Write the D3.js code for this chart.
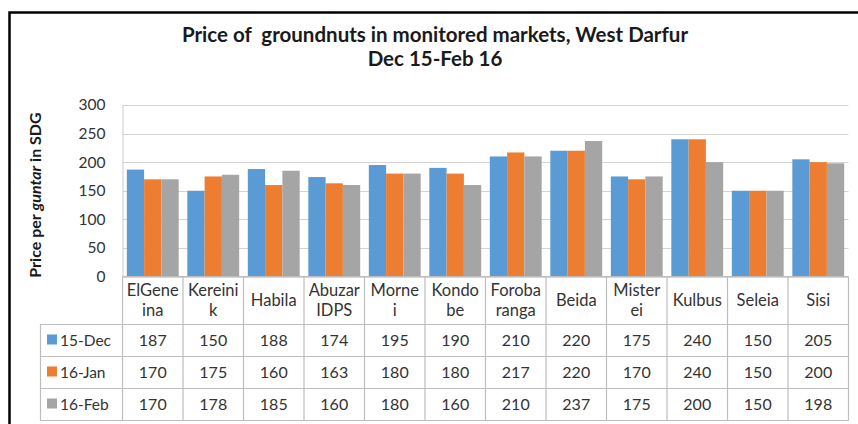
<!DOCTYPE html>
<html>
<head>
<meta charset="utf-8">
<script src="https://cdn.jsdelivr.net/npm/d3@7"></script>
<style>
  body { margin: 0; background: #fff; }
  svg { display: block; font-family: Lato, "Open Sans", sans-serif; }
</style>
</head>
<body>
<div id="chart"></div>
<script>
// podaci
const categories = ["ElGene\nina", "Kereini\nk", "Habila", "Abuzar\nIDPS", "Morne\ni", "Kondo\nbe",
  "Foroba\nranga", "Beida", "Mister\nei", "Kulbus", "Seleia", "Sisi"];
const seriesNames = ["15-Dec", "16-Jan", "16-Feb"];
const dec15 = [187, 150, 188, 174, 195, 190, 210, 220, 175, 240, 150, 205];
const jan16 = [170, 175, 160, 163, 180, 180, 217, 220, 170, 240, 150, 200];
const feb16 = [170, 178, 185, 160, 180, 160, 210, 237, 175, 200, 150, 198];
const yTicks = [0, 50, 100, 150, 200, 250, 300];

const colors = ["#5b9bd5", "#ed7d31", "#a5a5a5"];
const allSeries = [dec15, jan16, feb16];

const width = 858, height = 424;
const plot = { left: 122.5, right: 848.5, top: 105, bottom: 276.5 };
const rowH = 32;
const catRowBottom = 324;
const legendLeft = 40.5;

const svg = d3.select("#chart").append("svg")
  .attr("width", width)
  .attr("height", height);

svg.append("rect").attr("width", width).attr("height", height).attr("fill", "#fff");

// okvir
svg.append("path")
  .attr("d", `M9.5,${height} L9.5,12.5 L${width},12.5`)
  .attr("fill", "none")
  .attr("stroke", "#000")
  .attr("stroke-width", 2.5);

// naslov
svg.append("text")
  .attr("x", 435).attr("y", 42)
  .attr("text-anchor", "middle")
  .attr("font-weight", "bold")
  .attr("font-size", "20.5px")
  .attr("fill", "#1a1a1a")
  .attr("xml:space", "preserve")
  .text("Price of  groundnuts in monitored markets, West Darfur");
svg.append("text")
  .attr("x", 435).attr("y", 66)
  .attr("text-anchor", "middle")
  .attr("font-weight", "bold")
  .attr("font-size", "20.5px")
  .attr("fill", "#1a1a1a")
  .text("Dec 15-Feb 16");

// skale
const x0 = d3.scaleBand()
  .domain(d3.range(categories.length))
  .range([plot.left, plot.right])
  .paddingInner(0).paddingOuter(0);

const x1 = d3.scaleBand()
  .domain(d3.range(seriesNames.length))
  .range([0, x0.bandwidth()])
  .paddingOuter(0.25);

const y = d3.scaleLinear()
  .domain([0, 300])
  .range([plot.bottom, plot.top]);

// mreza
svg.append("g")
  .selectAll("line")
  .data(yTicks)
  .join("line")
  .attr("x1", plot.left).attr("x2", plot.right)
  .attr("y1", d => Math.round(y(d)) + 0.5)
  .attr("y2", d => Math.round(y(d)) + 0.5)
  .attr("stroke", "#d4d4d4")
  .attr("stroke-width", 1.2);

// y os
const yAxis = svg.append("g")
  .attr("transform", `translate(${plot.left},0)`)
  .call(d3.axisLeft(y).tickValues(yTicks).tickSize(0).tickPadding(17));
yAxis.select(".domain").attr("stroke", "#d4d4d4").attr("stroke-width", 1.2);
yAxis.selectAll("text")
  .attr("font-family", "Lato, sans-serif")
  .attr("font-size", "15.5px")
  .attr("fill", "#333");

svg.append("text")
  .attr("transform", `translate(41,195) rotate(-90)`)
  .attr("text-anchor", "middle")
  .attr("font-weight", "bold")
  .attr("font-size", "16px")
  .attr("fill", "#1a1a1a")
  .call(t => {
    t.append("tspan").text("Price per ");
    t.append("tspan").attr("font-style", "italic").text("guntar");
    t.append("tspan").text(" in SDG");
  });

// stupci
const groups = svg.append("g")
  .selectAll("g")
  .data(categories.map((c, i) => i))
  .join("g")
  .attr("transform", i => `translate(${x0(i)},0)`);

groups.selectAll("rect")
  .data(i => allSeries.map((s, k) => ({ k, v: s[i] })))
  .join("rect")
  .attr("x", d => x1(d.k))
  .attr("width", x1.bandwidth())
  .attr("y", d => y(d.v))
  .attr("height", d => y(0) - y(d.v))
  .attr("fill", d => colors[d.k]);

// tablica
const tableBottom = catRowBottom + rowH * seriesNames.length;
const tbl = svg.append("g")
  .attr("stroke", "#bdbdbd")
  .attr("stroke-width", 1.2)
  .attr("fill", "none");

// horizontalne linije
tbl.append("line")
  .attr("x1", plot.left).attr("x2", plot.right)
  .attr("y1", plot.bottom).attr("y2", plot.bottom);
d3.range(seriesNames.length + 1).forEach(r => {
  const yy = catRowBottom + r * rowH + 0.5;
  tbl.append("line")
    .attr("x1", legendLeft).attr("x2", plot.right)
    .attr("y1", yy).attr("y2", yy);
});
// vertikalne linije
d3.range(categories.length + 1).forEach(i => {
  const xx = i < categories.length ? x0(i) : plot.right;
  tbl.append("line")
    .attr("x1", xx).attr("x2", xx)
    .attr("y1", plot.bottom).attr("y2", tableBottom + 0.5);
});
tbl.append("line")
  .attr("x1", legendLeft).attr("x2", legendLeft)
  .attr("y1", catRowBottom).attr("y2", tableBottom + 0.5);

// nazivi kategorija
const catText = svg.append("g")
  .selectAll("text")
  .data(categories)
  .join("text")
  .attr("text-anchor", "middle")
  .attr("font-size", "16.5px")
  .attr("fill", "#333")
  .attr("transform", (d, i) => `translate(${x0(i) + x0.bandwidth() / 2},${(plot.bottom + catRowBottom) / 2})`);

catText.each(function(d) {
  const lines = d.split("\n");
  const lh = 20;
  const start = -(lines.length - 1) * lh / 2;
  d3.select(this).selectAll("tspan")
    .data(lines)
    .join("tspan")
    .attr("x", 0)
    .attr("y", (l, j) => start + j * lh)
    .attr("dy", "0.35em")
    .text(l => l);
});

// redovi vrijednosti
seriesNames.forEach((name, k) => {
  const cy = catRowBottom + k * rowH + rowH / 2 + 0.5;
  svg.append("rect")
    .attr("x", 47).attr("y", cy - 6)
    .attr("width", 10).attr("height", 10)
    .attr("fill", colors[k]);
  svg.append("text")
    .attr("x", 60).attr("y", cy)
    .attr("dy", "0.35em")
    .attr("font-size", "15.5px")
    .attr("fill", "#333")
    .text(name);
  svg.append("g")
    .selectAll("text")
    .data(allSeries[k])
    .join("text")
    .attr("x", (v, i) => x0(i) + x0.bandwidth() / 2)
    .attr("y", cy)
    .attr("dy", "0.35em")
    .attr("text-anchor", "middle")
    .attr("font-size", "16px")
    .attr("fill", "#333")
    .text(v => v);
});
</script>
</body>
</html>
